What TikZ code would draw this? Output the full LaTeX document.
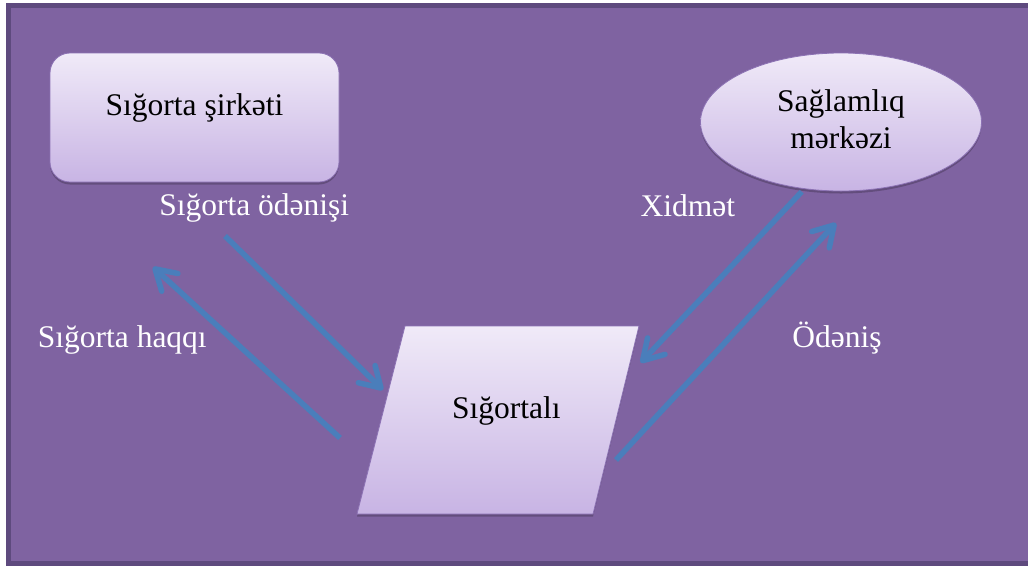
\documentclass[tikz,border=0pt]{standalone}
\usepackage{fontspec}
\setmainfont{Liberation Serif}
\usetikzlibrary{arrows.meta,shapes.geometric,shadows}
\definecolor{bgfill}{HTML}{7F63A1}
\definecolor{bgedge}{HTML}{5E4A7E}
\definecolor{boxtop}{HTML}{F0EAF8}
\definecolor{boxbot}{HTML}{C8B4E4}
\definecolor{boxedge}{HTML}{8C72B4}
\definecolor{flow}{HTML}{4A7EBB}
\begin{document}
\begin{tikzpicture}[x=1pt,y=-1pt,
  shape3d/.style={top color=boxtop,bottom color=boxbot,draw=boxedge,line width=0.8pt,
    drop shadow={shadow xshift=0pt,shadow yshift=-2.5pt,opacity=0.22,fill=black}},
  intext/.style={font=\fontsize{31.5}{36}\selectfont,text=black,inner sep=0pt,anchor=base},
  flowlabel/.style={font=\fontsize{31.5}{36}\selectfont,text=white,inner sep=0pt,anchor=base},
  flowarrow/.style={draw=flow,line width=5.5pt,-{Straight Barb[length=20pt,width=24pt,round]}}]
\useasboundingbox (0,0) rectangle (1028,566);
\fill[white] (0,0) rectangle (1028,566);
% framed purple panel
\draw[fill=bgfill,draw=bgedge,line width=5pt] (8,5.5) rectangle (1040,563);

% insurance company box
\node[shape3d,rounded corners=20pt,minimum width=289pt,minimum height=129pt,inner sep=0pt] (co) at (194.5,117.5) {};
\node[intext] (coT) at (194.5,115) {Sığorta şirkəti};

% health centre ellipse
\node[shape3d,ellipse,minimum width=281pt,minimum height=138pt,inner sep=0pt] (hc) at (841,122) {};
\node[intext] (hcT1) at (841,111.7) {Sağlamlıq};
\node[intext] (hcT2) at (841,148) {mərkəzi};

% insured party parallelogram
\coordinate (p1) at (405,326);
\coordinate (p2) at (639,326);
\coordinate (p3) at (593,514);
\coordinate (p4) at (357,514);
\draw[shape3d] (p1) -- (p2) -- (p3) -- (p4) -- cycle;
\node[intext] (insT) at (506.4,418) {Sığortalı};

% flow arrows
\coordinate (a1s) at (225,236);  \coordinate (a1e) at (383,390);
\coordinate (a2s) at (340,438);  \coordinate (a2e) at (153,267);
\coordinate (a3s) at (801.7,191.7); \coordinate (a3e) at (640.7,362.7);
\coordinate (a4s) at (616,460);  \coordinate (a4e) at (836,223);
\draw[flowarrow] (a1s) -- (a1e);
\draw[flowarrow] (a2s) -- (a2e);
\draw[flowarrow] (a3s) -- (a3e);
\draw[flowarrow] (a4s) -- (a4e);

% flow labels
\node[flowlabel] (l1) at (254.3,215) {Sığorta ödənişi};
\node[flowlabel] (l2) at (122.3,347.3) {Sığorta haqqı};
\node[flowlabel] (l3) at (687.9,216) {Xidmət};
\node[flowlabel] (l4) at (837,347.3) {Ödəniş};
\end{tikzpicture}
\end{document}
